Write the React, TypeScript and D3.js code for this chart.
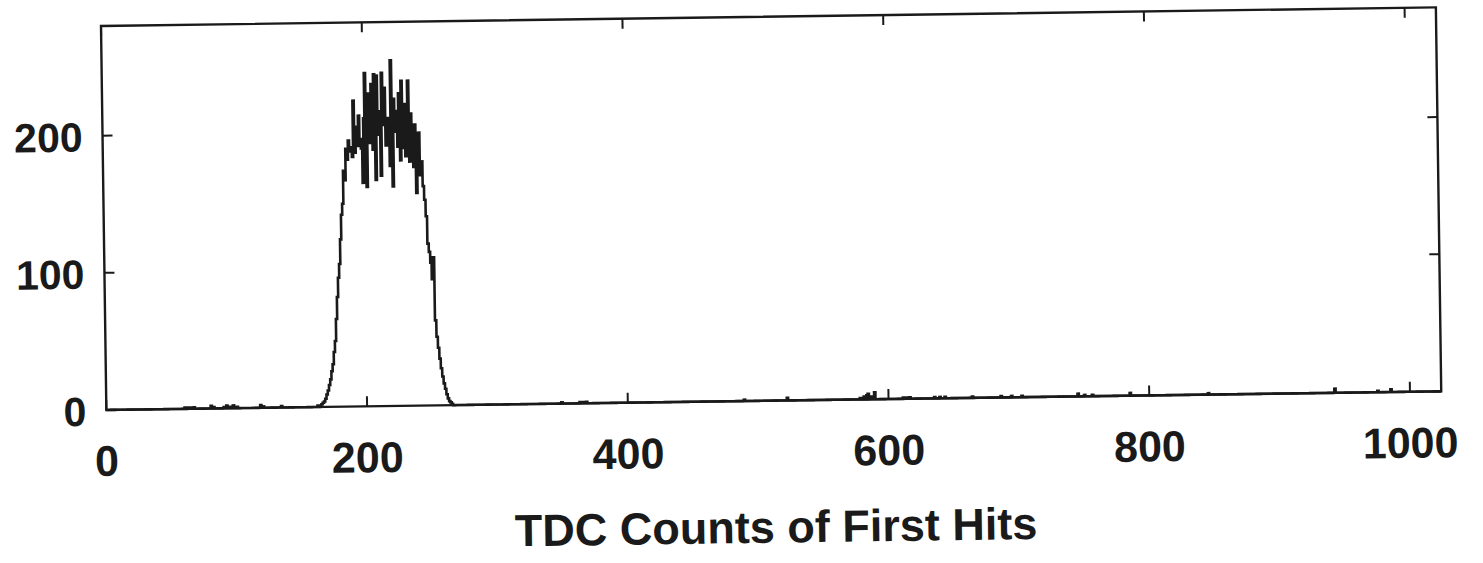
import React from "react";
import * as d3 from "d3";

// ---- data ----
const X_DOMAIN = [0, 1024];
const Y_DOMAIN = [0, 280];
const X_TICKS = [0, 200, 400, 600, 800, 1000];
const Y_TICKS = [0, 100, 200];
const X_TITLE = "TDC Counts of First Hits";

// dense part of the histogram: counts for bins starting at PEAK_START
const PEAK_START = 160;
const PEAK_COUNTS = [
  0, 0, 1, 0, 1, 2, 3, 4, 6, 9,
  12, 16, 20, 26, 31, 40, 48, 64, 80, 94,
  104, 122, 140, 148, 172, 165, 188, 180, 194, 186,
  189, 182, 223, 185, 204, 190, 212, 195, 188, 163,
  210, 243, 160, 228, 201, 192, 235, 187, 242, 165,
  241, 198, 215, 168, 243, 205, 232, 190, 210, 208,
  175, 252, 160, 224, 200, 215, 189, 228, 179, 237,
  188, 220, 182, 210, 237, 178, 213, 190, 174, 205,
  155, 190, 199, 168, 178, 160, 150, 138, 118, 112,
  104, 92, 108, 62, 50, 42, 34, 27, 21, 16,
  12, 8, 5, 3, 2, 1, 0,
];

// sparse background hits
const NOISE_BINS = [
  60, 62, 65, 67, 80, 82, 90, 92, 95, 97, 100, 118, 120, 134,
  349, 363, 366, 368, 489, 522, 578, 581, 583, 584, 586, 589,
  611, 614, 616, 635, 639, 643, 664, 686, 694, 702, 745, 750, 756,
  785, 845, 942, 975, 985,
];
const NOISE_COUNTS = [
  1, 1, 1, 1, 2, 1, 1, 2, 1, 2, 1, 2, 1, 1,
  1, 1, 1, 1, 1, 2, 1, 2, 3, 4, 2, 5,
  1, 1, 1, 1, 1, 1, 1, 1, 1, 1, 2, 1, 1,
  2, 1, 3, 1, 2,
];

const NBINS = 1024;

export default function App() {
  const W = 1483;
  const H = 563;
  const ox = 101;
  const oy = 26;
  const angle = -0.8;
  const pw = 1335;
  const ph = 384;
  const ink = "#1a1a1a";
  const font = "'Liberation Sans', Arial, Helvetica, sans-serif";

  const x = d3.scaleLinear().domain(X_DOMAIN).range([0, pw]);
  const y = d3.scaleLinear().domain(Y_DOMAIN).range([ph, 0]);

  const counts = new Array(NBINS).fill(0);
  PEAK_COUNTS.forEach((c, i) => (counts[PEAK_START + i] = c));
  NOISE_BINS.forEach((b, i) => (counts[b] = NOISE_COUNTS[i]));

  const pts: [number, number][] = counts.map((c, i) => [i, c]);
  pts.push([NBINS, counts[NBINS - 1]]);
  const line = d3
    .line<[number, number]>()
    .x((d) => x(d[0]))
    .y((d) => y(d[1]))
    .curve(d3.curveStepAfter);

  const tl = 10;

  return (
    <svg
      width={W}
      height={H}
      style={{ position: "absolute", left: 0, top: 0, background: "#fff" }}
    >
      <g transform={`translate(${ox},${oy}) rotate(${angle})`}>
        <path d={line(pts) || ""} fill="none" stroke={ink} strokeWidth={2.6} />
        <rect x={0} y={0} width={pw} height={ph} fill="none" stroke={ink} strokeWidth={2.4} />
        {X_TICKS.map((t) => (
          <g key={"xt" + t}>
            <line x1={x(t)} x2={x(t)} y1={ph} y2={ph - tl} stroke={ink} strokeWidth={2} />
            <line x1={x(t)} x2={x(t)} y1={0} y2={tl} stroke={ink} strokeWidth={2} />
            <text
              x={x(t)}
              y={ph + 66}
              textAnchor="middle"
              fontFamily={font}
              fontWeight="bold"
              fontSize={43}
              fill={ink}
            >
              {t}
            </text>
          </g>
        ))}
        {Y_TICKS.map((t) => (
          <g key={"yt" + t}>
            <line x1={0} x2={tl} y1={y(t)} y2={y(t)} stroke={ink} strokeWidth={2} />
            <line x1={pw} x2={pw - tl} y1={y(t)} y2={y(t)} stroke={ink} strokeWidth={2} />
            <text
              x={-20}
              y={y(t)}
              dy="0.38em"
              textAnchor="end"
              fontFamily={font}
              fontWeight="bold"
              fontSize={41}
              fill={ink}
            >
              {t}
            </text>
          </g>
        ))}
        <text
          x={668}
          y={ph + 142}
          textAnchor="middle"
          fontFamily={font}
          fontWeight="bold"
          fontSize={45}
          fill={ink}
        >
          {X_TITLE}
        </text>
      </g>
    </svg>
  );
}
